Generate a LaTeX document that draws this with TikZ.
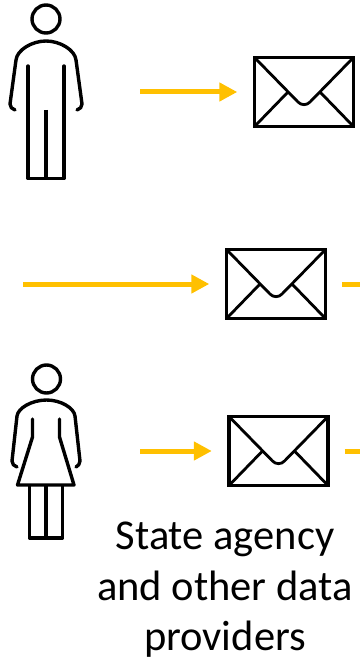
\documentclass[tikz,border=0pt]{standalone}
\usepackage{fontspec}
\setmainfont{Carlito}
\usetikzlibrary{arrows.meta}
\definecolor{flowgold}{RGB}{255,192,0}
\tikzset{
  figure/.style={line width=3.4pt,black,line join=round},
  mailbox/.style={draw=black,line width=3.4pt,minimum width=99pt,minimum height=69pt,inner sep=0pt},
  flap/.style={line width=2.8pt,black},
  flow/.style={line width=5pt,flowgold,-{Triangle[length=18pt,width=18pt]},shorten >=15.5pt},
  flowout/.style={line width=5pt,flowgold,shorten <=15pt}
}
\begin{document}
\begin{tikzpicture}[x=1pt,y=-1pt]
\path[use as bounding box] (0,0) rectangle (360,658);

\node[mailbox] (mailtop) at (304,92) {};
\node[mailbox] (mailmid) at (276,284) {};
\node[mailbox] (mailbot) at (278.5,451) {};
\foreach \m in {mailtop,mailmid,mailbot}{
  \begin{scope}[shift={(\m.center)}]
  \draw[flap] (-49,-34) -- (-6,10) .. controls (-3,13.5) and (3,13.5) .. (6,10) -- (49,-34);
  \draw[flap] (-16,0) -- (-49,34);
  \draw[flap] (16,0) -- (49,34);
  \end{scope}
}

\coordinate (starttop) at (140,92);
\coordinate (startmid) at (23,284);
\coordinate (startbot) at (140,451);
\coordinate (endmid) at (360,284);
\coordinate (endbot) at (360,451);
\draw[flow] (starttop) -- (mailtop.west);
\draw[flow] (startmid) -- (mailmid.west);
\draw[flow] (startbot) -- (mailbot.west);
\draw[flowout] (mailmid.east) -- (endmid);
\draw[flowout] (mailbot.east) -- (endbot);

\draw[figure] (46,19) circle(14);
\draw[figure,line cap=round] (15,110) .. controls (12,109) and (10,107) .. (10,104) -- (16,60) .. controls (17,50) and (32,41) .. (46,41) .. controls (60,41) and (75,50) .. (76,60) -- (82,104) .. controls (82,107) and (80,109) .. (77,110);
\draw[figure,line cap=round] (28,66) -- (28,178.5) -- (64,178.5) -- (64,66);
\draw[figure] (46,110) -- (46,178.5);

\draw[figure] (46.5,379) circle(14);
\draw[figure,line cap=round] (17,467) .. controls (14,466) and (12,464) .. (12,461) -- (17,416) .. controls (18,408) and (32,400) .. (46.5,400) .. controls (61,400) and (74,408) .. (75,416) -- (80,461) .. controls (80,464) and (78,466) .. (76,467);
\draw[figure,line cap=round] (32.5,419) -- (32.5,437) -- (17.5,485) -- (74,485) -- (59.5,437) -- (59.5,419);
\draw[figure] (29.5,485) -- (29.5,538) -- (62.5,538) -- (62.5,485);
\draw[figure] (46,485) -- (46,538);

\node[align=center,inner sep=0pt,font=\fontsize{42.5}{50.5}\selectfont] (providers) at (225,590) {State agency\\and other data\\providers};
\end{tikzpicture}
\end{document}
